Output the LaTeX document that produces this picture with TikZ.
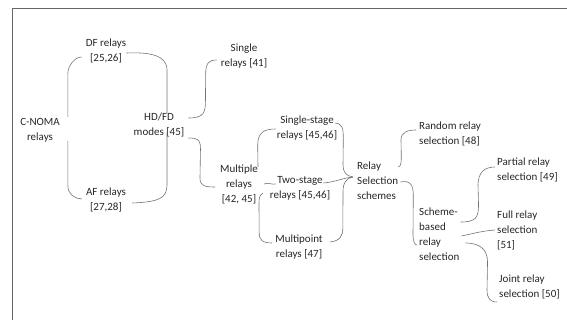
\documentclass[tikz,border=0pt]{standalone}
\usepackage{fontspec}
\setmainfont{Carlito}
\usetikzlibrary{calc}

\begin{document}
\begin{tikzpicture}[
    x=1pt, y=-1pt,
    lbl/.style={inner sep=0pt, align=center, text=black!85, font=\fontsize{11}{15}\selectfont},
    lbll/.style={lbl, align=left, anchor=west},
    link/.style={draw=black!55, line width=0.6pt},
    frame/.style={draw=black!60, line width=0.8pt}
]
    \useasboundingbox (0,0) rectangle (567,320);
    \draw[frame] (12,8) rectangle (600,340);

    % Relay types and modes
    \node[lbl] (cnoma) at (40,130) {C-NOMA\\relays};
    \node[lbl] (df) at (106,51) {DF relays\\{}[25,26]};
    \node[lbl] (af) at (106,200) {AF relays\\{}[27,28]};
    \node[lbl] (hdfd) at (159,125) {HD/FD\\modes [45]};

    % Number of relays
    \node[lbl] (single) at (244,56) {Single\\relays [41]};
    \node[lbl] (multiple) at (239,184) {Multiple\\relays\\{}[42, 45]};
    \node[lbl] (sstage) at (307,128) {Single-stage\\relays [45,46]};
    \node[lbl] (tstage) at (300,188) {Two-stage\\relays [45,46]};
    \node[lbl] (mpoint) at (299,247) {Multipoint\\relays [47]};

    % Relay selection
    \node[lbll] (rss) at (357,181) {Relay\\Selection\\schemes};
    \node[lbll] (random) at (419,134) {Random relay\\selection [48]};
    \node[lbll] (scheme) at (419,234) {Scheme-\\based\\relay\\selection};
    \node[lbll] (partial) at (497,170) {Partial relay\\selection [49]};
    \node[lbll] (full) at (497,230) {Full relay\\selection\\{}[51]};
    \node[lbll] (joint) at (499,287) {Joint relay\\selection [50]};

    % Braces: C-NOMA to DF/AF
    \draw[link] ($(cnoma.east)+(8,-13)$) -- ++(0,-44) .. controls +(0,-7) and +(-7,0) .. ($(df.west)+(-4,6)$);
    \draw[link] ($(cnoma.east)+(8,11)$) -- ++(0,45) .. controls +(0,8) and +(-7,0) .. ($(af.west)+(-4,-1)$);

    % Braces: DF/AF to HD/FD
    \draw[link] ($(df.east)+(0,2)$) .. controls +(23,-1) and +(0,-15) .. ($(hdfd)+(8,-55)$) -- ($(hdfd)+(8,-12)$);
    \draw[link] ($(af.east)+(6,3)$) .. controls +(27,-1) and +(0,13) .. ($(hdfd)+(8,60)$) -- ($(hdfd)+(8,7)$);

    % Braces: HD/FD to single/multiple
    \draw[link] ($(hdfd.east)+(4,-7)$) .. controls +(16,0) and +(0,12) .. ($(hdfd.east)+(21,-25)$) -- ($(single.west)+(-15,19)$) .. controls +(0,-12) and +(-8,0) .. ($(single.west)+(-4,4)$);
    \draw[link] ($(hdfd.east)+(4,13)$) .. controls +(12,0) and +(0,-8) .. ($(hdfd.east)+(16,25)$) -- ($(multiple.west)+(-20,-6)$) .. controls +(0,8) and +(-10,0) .. ($(multiple.west)+(-5,3)$);

    % Braces: multiple relays to stages
    \draw[link] ($(multiple.east)+(0,-17)$) -- ($(sstage.west)+(-19,17)$) .. controls +(0,-13) and +(-11,0) .. ($(sstage.west)+(-1,1)$);
    \draw[link] ($(multiple.east)+(6,0)$) .. controls +(4,-2) and +(-4,1) .. ($(tstage.west)+(6,-4)$);
    \draw[link] ($(multiple.east)+(5,9)$) .. controls +(-4,3) and +(0,-7) .. ($(multiple.east)+(1,21)$) -- ($(mpoint.west)+(-16,-15)$) .. controls +(0,8) and +(-10,0) .. ($(mpoint.west)+(-3,-4)$);

    % Braces: stages to relay selection
    \draw[link] ($(sstage.east)+(-2,-5)$) .. controls +(7,1) and +(0,-10) .. ($(sstage.east)+(6,10)$) -- ($(rss.west)+(-14,-16)$) .. controls +(0,7) and +(-7,-1) .. ($(rss.west)+(-4,-4)$);
    \draw[link] ($(tstage.east)+(-7,-5)$) .. controls +(12,-1) and +(-10,1) .. ($(rss.west)+(-4,-4)$);
    \draw[link] ($(mpoint.east)+(7,-5)$) .. controls +(10,-1) and +(0,8) .. ($(mpoint.east)+(20,-19)$) -- ($(rss.west)+(-14,11)$) .. controls +(0,-9) and +(-7,1) .. ($(rss.west)+(-4,-4)$);

    % Braces: relay selection schemes
    \draw[link] ($(rss.east)+(0,-14)$) .. controls +(3,-1) and +(0,7) .. ($(rss.east)+(3,-26)$) -- ($(random.west)+(-18,6)$) .. controls +(0,-8) and +(-8,0) .. ($(random.west)+(-3,-4)$);
    \draw[link] ($(rss.east)+(2,1)$) .. controls +(10,-2) and +(0,-10) .. ($(rss.east)+(15,14)$) -- ($(scheme.west)+(-6,1)$) .. controls +(0,7) and +(-2,0) .. ($(scheme.west)+(-2,11)$);

    % Braces: scheme-based selection
    \draw[link] ($(scheme.east)+(1,-12)$) .. controls +(15,0) and +(0,13) .. ($(scheme.east)+(19,-29)$) -- ($(partial.west)+(-19,15)$) .. controls +(0,-13) and +(-10,0) .. ($(partial.west)+(-2,-3)$);
    \draw[link] ($(scheme.east)+(2,2)$) .. controls +(14,-3) and +(-13,1) .. ($(full.west)+(-2,0)$);
    \draw[link] ($(scheme.east)+(6,9)$) .. controls +(15,0) and +(0,-12) .. ($(scheme.east)+(28,28)$) -- ($(joint.west)+(-12,3)$) .. controls +(0,8) and +(-7,0) .. ($(joint.west)+(-2,15)$);

\end{tikzpicture}
\end{document}
